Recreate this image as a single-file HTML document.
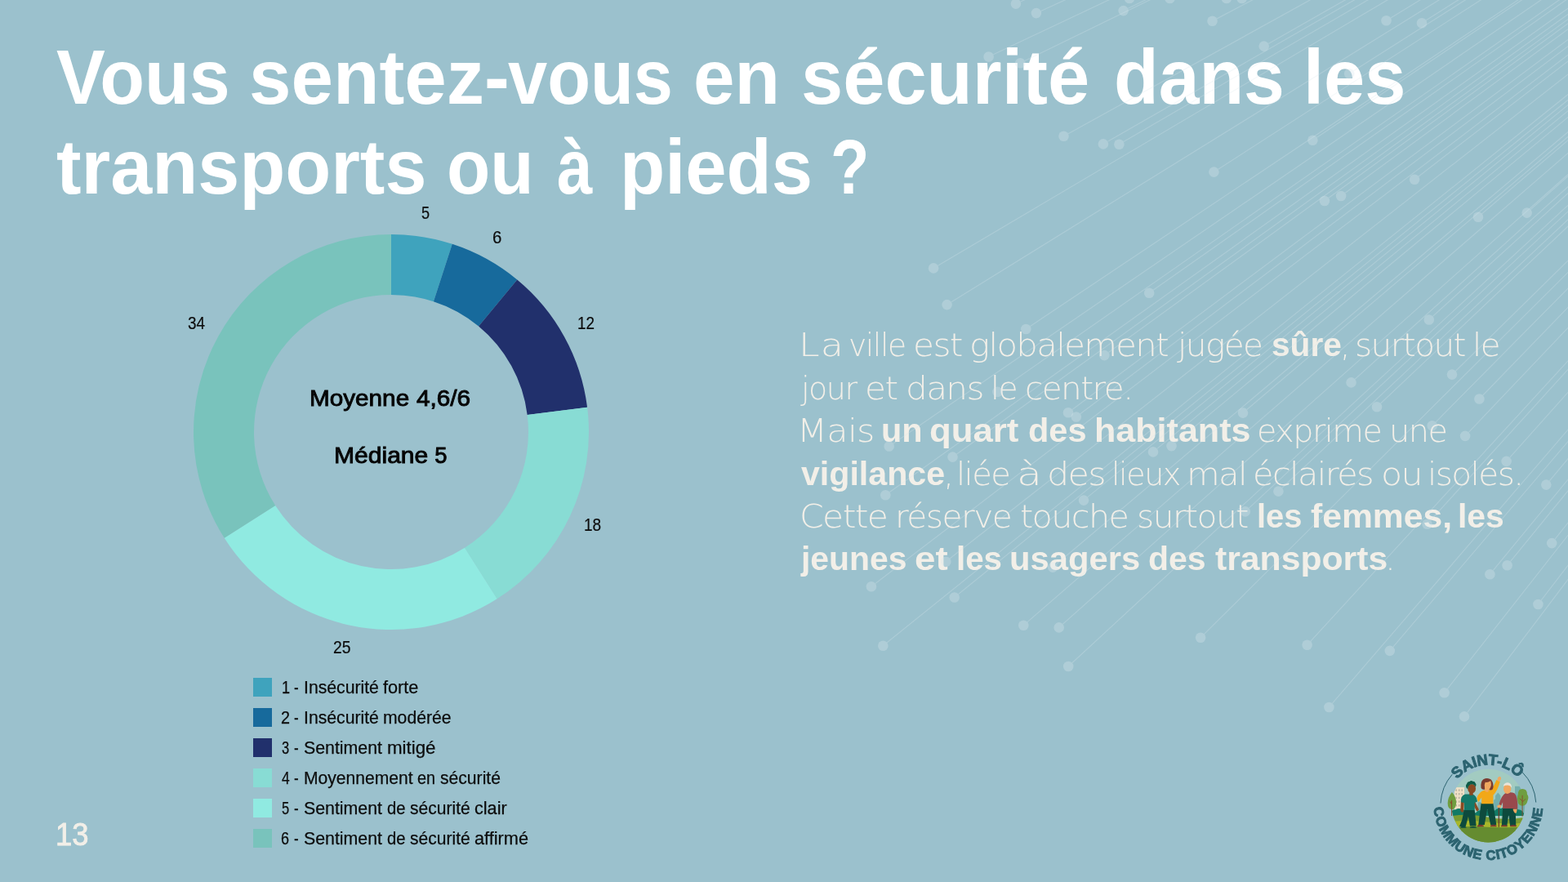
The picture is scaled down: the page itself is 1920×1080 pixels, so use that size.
<!DOCTYPE html>
<html lang="fr">
<head>
<meta charset="utf-8">
<title>Vous sentez-vous en sécurité dans les transports ou à pieds ?</title>
<style>
html,body{margin:0;padding:0;}
body{width:1920px;height:1080px;overflow:hidden;background:#9bc1cd;position:relative;font-family:"Liberation Sans",sans-serif;}
svg{position:absolute;left:0;top:0;}
h1,p,ul,li,div{margin:0;padding:0;list-style:none;}
h1 span,p span,p b,li span,.dl span,.ct span,.pn span{position:absolute;white-space:nowrap;transform-origin:0 0;}
h1 span{font:bold 95px/110px "Liberation Sans",sans-serif;color:#fff;}
p span{font:200 39px/52px "DejaVu Sans","Liberation Sans",sans-serif;color:#f2efe8;}
p b{font:bold 41.5px/52px "Liberation Sans",sans-serif;color:#f2efe8;}
li i{position:absolute;left:310.4px;width:22.6px;height:22.6px;}
li span{font:21.5px/30px "Liberation Sans",sans-serif;color:#0c0c0c;-webkit-text-stroke:0.25px #0c0c0c;}
.dl span{font:21.8px/30px "Liberation Sans",sans-serif;color:#0c0c0c;-webkit-text-stroke:0.2px #0c0c0c;}
.ct span{font:27.4px/34px "Liberation Sans",sans-serif;color:#050505;-webkit-text-stroke:0.9px #050505;}
.pn span{font:38px/42px "Liberation Sans",sans-serif;color:#f2efe8;-webkit-text-stroke:0.9px #f2efe8;}
</style>
</head>
<body>
<h1><span style="left:69.3px;top:39.0px;transform:scaleX(0.944)">Vous</span> <span style="left:305.4px;top:39.0px;transform:scaleX(0.974)">sentez-</span><span style="left:622.0px;top:39.0px;transform:scaleX(0.911)">vous</span> <span style="left:848.8px;top:39.0px;transform:scaleX(0.956)">en</span> <span style="left:981.1px;top:39.0px;transform:scaleX(0.969)">sécurité</span> <span style="left:1363.5px;top:39.0px;transform:scaleX(0.942)">dans</span> <span style="left:1596.3px;top:39.0px;transform:scaleX(0.949)">les</span>
<span style="left:68.7px;top:149.0px;transform:scaleX(0.965)">transports</span> <span style="left:547.2px;top:149.0px;transform:scaleX(0.918)">ou</span> <span style="left:682.4px;top:149.0px;transform:scaleX(0.821)">à</span> <span style="left:759.3px;top:149.0px;transform:scaleX(0.951)">pieds</span> <span style="left:1016.7px;top:149.0px;transform:scaleX(0.816)">?</span></h1>
<svg width="960" height="820" viewBox="0 0 960 820">
<path d="M479.00 287.00A242 242 0 0 1 553.78 298.84L530.91 369.22A168 168 0 0 0 479.00 361.00Z" fill="#3fa3bd"/>
<path d="M553.78 298.84A242 242 0 0 1 633.26 342.54L586.09 399.55A168 168 0 0 0 530.91 369.22Z" fill="#176a9c"/>
<path d="M633.26 342.54A242 242 0 0 1 719.09 498.67L645.68 507.94A168 168 0 0 0 586.09 399.55Z" fill="#21306c"/>
<path d="M719.09 498.67A242 242 0 0 1 608.67 733.33L569.02 670.85A168 168 0 0 0 645.68 507.94Z" fill="#88dcd4"/>
<path d="M608.67 733.33A242 242 0 0 1 274.67 658.67L337.15 619.02A168 168 0 0 0 569.02 670.85Z" fill="#90eae1"/>
<path d="M274.67 658.67A242 242 0 0 1 479.00 287.00L479.00 361.00A168 168 0 0 0 337.15 619.02Z" fill="#79c3bc"/>
</svg>
<div class="dl"><span style="left:516.0px;top:246.0px;transform:scaleX(0.833)">5</span> <span style="left:602.8px;top:276.0px;transform:scaleX(0.936)">6</span> <span style="left:707.1px;top:381.0px;transform:scaleX(0.865)">12</span> <span style="left:715.0px;top:628.0px;transform:scaleX(0.874)">18</span> <span style="left:408.0px;top:778.0px;transform:scaleX(0.887)">25</span> <span style="left:229.7px;top:381.0px;transform:scaleX(0.866)">34</span></div>
<div class="ct"><span style="left:378.8px;top:471.0px;transform:scaleX(1.084)">Moyenne</span> <span style="left:510.4px;top:471.0px;transform:scaleX(1.086)">4,6/6</span></div>
<div class="ct"><span style="left:408.6px;top:541.0px;transform:scaleX(1.097)">Médiane</span> <span style="left:532.2px;top:541.0px">5</span></div>
<ul>
<li><i style="top:830.4px;background:#3fa3bd"></i><span style="left:344.5px;top:827.0px;transform:scaleX(0.840)">1</span> <span style="left:360.3px;top:827.0px;transform:scaleX(0.786)">-</span> <span style="left:371.5px;top:827.0px;transform:scaleX(0.986)">Insécurité</span> <span style="left:469.2px;top:827.0px;transform:scaleX(1.010)">forte</span></li>
<li><i style="top:867.4px;background:#176a9c"></i><span style="left:343.9px;top:864.0px;transform:scaleX(0.920)">2</span> <span style="left:360.3px;top:864.0px;transform:scaleX(0.786)">-</span> <span style="left:371.5px;top:864.0px;transform:scaleX(0.986)">Insécurité</span> <span style="left:468.7px;top:864.0px;transform:scaleX(0.984)">modérée</span></li>
<li><i style="top:904.4px;background:#21306c"></i><span style="left:344.8px;top:901.0px;transform:scaleX(0.767)">3</span> <span style="left:360.3px;top:901.0px;transform:scaleX(0.786)">-</span> <span style="left:372.0px;top:901.0px;transform:scaleX(0.991)">Sentiment</span> <span style="left:473.7px;top:901.0px;transform:scaleX(1.038)">mitigé</span></li>
<li><i style="top:941.4px;background:#88dcd4"></i><span style="left:344.5px;top:938.0px;transform:scaleX(0.808)">4</span> <span style="left:360.3px;top:938.0px;transform:scaleX(0.786)">-</span> <span style="left:371.5px;top:938.0px;transform:scaleX(0.980)">Moyennement</span> <span style="left:511.3px;top:938.0px;transform:scaleX(0.923)">en</span> <span style="left:538.7px;top:938.0px;transform:scaleX(0.982)">sécurité</span></li>
<li><i style="top:978.4px;background:#90eae1"></i><span style="left:344.8px;top:975.0px;transform:scaleX(0.767)">5</span> <span style="left:360.3px;top:975.0px;transform:scaleX(0.786)">-</span> <span style="left:372.0px;top:975.0px;transform:scaleX(0.991)">Sentiment</span> <span style="left:474.2px;top:975.0px;transform:scaleX(0.941)">de</span> <span style="left:502.2px;top:975.0px;transform:scaleX(0.979)">sécurité</span> <span style="left:581.3px;top:975.0px;transform:scaleX(1.006)">clair</span></li>
<li><i style="top:1015.4px;background:#79c3bc"></i><span style="left:344.0px;top:1012.0px;transform:scaleX(0.836)">6</span> <span style="left:360.3px;top:1012.0px;transform:scaleX(0.786)">-</span> <span style="left:372.0px;top:1012.0px;transform:scaleX(0.991)">Sentiment</span> <span style="left:474.2px;top:1012.0px;transform:scaleX(0.941)">de</span> <span style="left:502.2px;top:1012.0px;transform:scaleX(0.979)">sécurité</span> <span style="left:581.3px;top:1012.0px;transform:scaleX(1.010)">affirmé</span></li>
</ul>
<p><span style="left:977.8px;top:397.0px;transform:scaleX(1.178);letter-spacing:0.90px">La</span> <span style="left:1038.9px;top:397.0px;transform:scaleX(0.966);letter-spacing:-1.50px">ville</span> <span style="left:1117.5px;top:397.0px;transform:scaleX(1.084);letter-spacing:-1.50px">est</span> <span style="left:1187.3px;top:397.0px;transform:scaleX(1.070);letter-spacing:-1.50px">globalement</span> <span style="left:1442.0px;top:397.0px;transform:scaleX(1.041);letter-spacing:-1.50px">jugée</span> <b style="left:1556.5px;top:396.0px;transform:scaleX(0.979)">sûre</b><span style="left:1641.0px;top:397.0px">,</span> <span style="left:1659.2px;top:397.0px;transform:scaleX(1.040);letter-spacing:-1.50px">surtout</span> <span style="left:1803.4px;top:397.0px;transform:scaleX(1.035);letter-spacing:-1.50px">le</span>
<span style="left:981.0px;top:450.0px;transform:scaleX(0.973);letter-spacing:-1.50px">jour</span> <span style="left:1059.2px;top:450.0px;transform:scaleX(1.084);letter-spacing:-1.50px">et</span> <span style="left:1108.6px;top:450.0px;transform:scaleX(1.081);letter-spacing:-1.50px">dans</span> <span style="left:1213.0px;top:450.0px;transform:scaleX(1.006);letter-spacing:-1.50px">le</span> <span style="left:1255.4px;top:450.0px;transform:scaleX(1.039);letter-spacing:-1.50px">centre.</span>
<span style="left:975.9px;top:502.0px;transform:scaleX(1.100);letter-spacing:-0.64px">Mais</span> <b style="left:1078.8px;top:501.0px;transform:scaleX(0.997)">un</b> <b style="left:1138.4px;top:501.0px;transform:scaleX(1.054)">quart</b> <b style="left:1259.0px;top:501.0px">des</b> <b style="left:1339.7px;top:501.0px;transform:scaleX(1.038)">habitants</b> <span style="left:1539.4px;top:502.0px;transform:scaleX(1.019);letter-spacing:-1.50px">exprime</span> <span style="left:1700.9px;top:502.0px;transform:scaleX(1.021);letter-spacing:-1.50px">une</span>
<b style="left:981.3px;top:554.0px;transform:scaleX(0.991)">vigilance</b><span style="left:1155.5px;top:555.0px">,</span> <span style="left:1171.4px;top:555.0px;transform:scaleX(1.028);letter-spacing:-1.50px">liée</span> <span style="left:1245.4px;top:555.0px;transform:scaleX(1.294)">à</span> <span style="left:1281.7px;top:555.0px;transform:scaleX(1.100);letter-spacing:-1.50px">des</span> <span style="left:1361.1px;top:555.0px;transform:scaleX(0.976);letter-spacing:-1.50px">lieux</span> <span style="left:1453.2px;top:555.0px;transform:scaleX(1.071);letter-spacing:-1.50px">mal</span> <span style="left:1533.8px;top:555.0px;transform:scaleX(1.062);letter-spacing:-1.50px">éclairés</span> <span style="left:1690.5px;top:555.0px;transform:scaleX(1.095);letter-spacing:-1.50px">ou</span> <span style="left:1747.6px;top:555.0px;transform:scaleX(1.041);letter-spacing:-1.50px">isolés.</span>
<span style="left:978.7px;top:607.0px;transform:scaleX(1.092);letter-spacing:-1.50px">Cette</span> <span style="left:1095.8px;top:607.0px;transform:scaleX(1.045);letter-spacing:-1.50px">réserve</span> <span style="left:1249.4px;top:607.0px;transform:scaleX(1.059);letter-spacing:-1.50px">touche</span> <span style="left:1392.2px;top:607.0px;transform:scaleX(1.045);letter-spacing:-1.50px">surtout</span> <b style="left:1538.6px;top:606.0px;transform:scaleX(0.961)">les</b> <b style="left:1604.5px;top:606.0px;transform:scaleX(1.028)">femmes,</b> <b style="left:1785.0px;top:606.0px;transform:scaleX(0.985)">les</b>
<b style="left:980.5px;top:658.0px;transform:scaleX(0.984)">jeunes</b> <b style="left:1119.7px;top:658.0px;transform:scaleX(1.100)">et</b> <b style="left:1170.6px;top:658.0px;transform:scaleX(0.971)">les</b> <b style="left:1236.0px;top:658.0px;transform:scaleX(1.006)">usagers</b> <b style="left:1406.0px;top:658.0px;transform:scaleX(0.987)">des</b> <b style="left:1488.0px;top:658.0px;transform:scaleX(1.029)">transports</b><span style="left:1696.3px;top:659.0px">.</span></p>
<div class="pn"><span style="left:67.9px;top:1001.0px;transform:scaleX(0.958)">13</span></div>
<svg id="logo" width="1920" height="1080" viewBox="0 0 1920 1080">
<defs>
<clipPath id="lc"><circle cx="1822.4" cy="986.6" r="44.9"/></clipPath>
<path id="pt" d="M1772.40 986.60A50.0 50.0 0 0 1 1872.40 986.60"/>
<path id="pb" d="M1755.80 986.60A66.6 66.6 0 0 0 1889.00 986.60"/>
</defs>
<g clip-path="url(#lc)"><g transform="translate(1750 920) scale(0.12965)">
<rect x="150" y="150" width="820" height="730" fill="#a2cbc1"/>
<rect x="238" y="340" width="94" height="230" fill="#efe0c6"/>
<rect x="250" y="358" width="12" height="18" fill="#b9b3a0"/>
<rect x="277" y="358" width="12" height="18" fill="#b9b3a0"/>
<rect x="304" y="358" width="12" height="18" fill="#b9b3a0"/>
<rect x="250" y="394" width="12" height="18" fill="#b9b3a0"/>
<rect x="277" y="394" width="12" height="18" fill="#b9b3a0"/>
<rect x="304" y="394" width="12" height="18" fill="#b9b3a0"/>
<rect x="250" y="430" width="12" height="18" fill="#b9b3a0"/>
<rect x="277" y="430" width="12" height="18" fill="#b9b3a0"/>
<rect x="304" y="430" width="12" height="18" fill="#b9b3a0"/>
<rect x="250" y="466" width="12" height="18" fill="#b9b3a0"/>
<rect x="277" y="466" width="12" height="18" fill="#b9b3a0"/>
<rect x="304" y="466" width="12" height="18" fill="#b9b3a0"/>
<rect x="250" y="502" width="12" height="18" fill="#b9b3a0"/>
<rect x="277" y="502" width="12" height="18" fill="#b9b3a0"/>
<rect x="304" y="502" width="12" height="18" fill="#b9b3a0"/>
<path d="M810 330h60v260h-60zM610 460l15-10v-30l25-30l25 30v170h-65zM460 480h30v100h-30zM870 420h50v170h-50z" fill="#74aead"/>
<path d="M190 610q10-60 60-60q30-20 60 0q40 0 50 30h80q20-30 60-20q30-20 60 0h60q20-30 60-20q40-30 80 0q50-20 80 10q50 0 60 60z" fill="#117a66"/>
<path d="M150 620q200-40 400 0t420-10v280h-820z" fill="#7a9b32"/>
<path d="M150 670q200-30 420 0t400-10v60h-820z" fill="#a8b72c"/>
<path d="M150 730q200-30 400-15t420-10v180h-820z" fill="#658c30"/>
</g></g>
<g transform="translate(1750 920) scale(0.12965)">
<path d="M215 385q45 50 40 110q-5 50-40 55q-40-5-40-60q0-55 40-105z" fill="#6f9e40"/>
<path d="M213 610v-150M213 500l-15-25" stroke="#8a4a2a" stroke-width="8" fill="none"/>
<path d="M880 355q45 0 45 50q20 25 5 60q-10 50-50 50q-40 0-45-50q-10-30 5-60q0-50 40-50z" fill="#6f9e40"/>
<path d="M880 615v-200M880 480l30-30M880 470l-25-25" stroke="#8a4a2a" stroke-width="7" fill="none"/>
<path d="M330 555h100l15 150h-60l-15-90l-25 95h-60l25-60z" fill="#0d4a3d"/>
<path d="M295 715q25-15 55 0v8h-55zM385 715q30-12 60 0v8h-60z" fill="#0d4a3d"/>
<path d="M300 470l-5 90q10 25 30 10l5-90zM430 470l40 80q-15 25-25 10l-35-70z" fill="#8a4a22"/>
<path d="M300 480q-5-60 40-75h70q40 15 45 70l-25 10v70h-100v-70z" fill="#13796a"/>
<rect x="380" y="385" width="34" height="30" fill="#8a4a22"/>
<ellipse cx="402" cy="352" rx="38" ry="44" fill="#8a4a22"/>
<path d="M352 345q-12-22 4-38q4-22 26-22q14-12 30-2q20-2 24 16q14 14 2 36q-8-22-30-24q-22-2-34 14q-10 12-8 30q-10-2-14-10z" fill="#0d5b47"/>
<path d="M490 490h115l30 205h-55l-32-150l-25 150h-58z" fill="#0d4a3d"/>
<path d="M455 700q30-15 60 0v12h-60zM578 700q30-15 58 0v12h-58z" fill="#7a3a30"/>
<path d="M450 445q20-70 80-80h50q30-30 55-95l35 15q-25 90-65 130v80h-110v-60l-30 45z" fill="#f2a818"/>
<path d="M645 275q-5-30 20-38q20 5 12 30q-5 15-20 18z" fill="#f0a860"/>
<path d="M490 345q-8-55 22-80q38-22 72 2q22 25 22 65q0 20-10 30q-20 8-32-2h-45q-18 6-29-15z" fill="#7a3b2f"/>
<path d="M525 372v-25q-8-30 5-55q25 5 50-12q12 35-2 62q-6 18-18 25v15q-18 8-35-10z" fill="#f0a860"/>
<path d="M695 540h120l5 165h-55l-15-110l-15 110h-50z" fill="#0d4a3d"/>
<path d="M680 700q30-12 58 0v12h-58zM765 700q30-12 58 0v12h-58z" fill="#7a3a30"/>
<path d="M658 530v185" stroke="#6b3326" stroke-width="9" fill="none"/>
<path d="M660 500q20-80 60-105q50-15 85 0q35 30 30 150h-40v-5h-100v-60l-15 35z" fill="#99494c"/>
<path d="M640 520q10-20 35-12l5 20q-20 5-30 5zM790 545h40l-5 35q-15 10-25-10z" fill="#f0a860"/>
<ellipse cx="738" cy="355" rx="36" ry="46" fill="#f0a860"/>
<path d="M700 330q5-35 45-35q35 5 35 50q-15-25-40-25q-25 0-40 10z" fill="#e9e4da"/>
</g>
<path d="M1778.25 948.22A58.5 58.5 0 0 0 1763.98 983.54M1880.76 982.52A58.5 58.5 0 0 0 1863.77 945.23" fill="none" stroke="#2c6370" stroke-width="1"/>
<text font-family="Liberation Sans, sans-serif" font-weight="bold" font-size="18.5" letter-spacing="-0.3" fill="#2c6370" stroke="#2c6370" stroke-width="0.95"><textPath href="#pt" startOffset="49.2%" text-anchor="middle">SAINT-LÔ</textPath></text>
<text font-family="Liberation Sans, sans-serif" font-weight="bold" font-size="16.6" letter-spacing="0.9" fill="#2c6370" stroke="#2c6370" stroke-width="0.95"><textPath href="#pb" startOffset="50%" text-anchor="middle">COMMUNE CITOYENNE</textPath></text>
</svg>
<svg id="pat" width="1920" height="1080" viewBox="0 0 1920 1080" style="pointer-events:none">
<g stroke="#d8e7ec" stroke-opacity="0.28" stroke-width="1.2" fill="none">
<path d="M1249.7 2.0L1265.4 -5.0M1274.6 13.5L1314.9 -5.0M1381.3 10.3L1412.9 -5.0M1216.3 66.8L1368.1 -5.0M1255.0 74.4L1418.0 -5.0M1308.0 163.7L1613.2 -5.0M1356.4 173.3L1667.0 -5.0M1375.8 173.6L1683.5 -5.0M1388.7 -4.7L1389.3 -5.0M1438.1 -4.8L1438.6 -5.0M1507.5 -4.9L1507.7 -5.0M1526.2 -4.9L1526.4 -5.0M1490.1 22.9L1542.9 -5.0M1553.2 53.5L1655.9 -5.0M1702.9 21.9L1747.1 -5.0M1746.3 24.8L1793.6 -5.0M1657.5 86.8L1802.1 -5.0M1612.6 168.3L1870.8 -5.0M1491.7 207.2L1820.9 -5.0M1737.1 215.9L1925.0 71.2M1627.0 242.3L1925.0 25.0M1647.2 236.3L1925.0 32.0M1148.5 325.2L1707.4 -5.0M1165.0 369.8L1770.1 -5.0M1261.5 399.5L1866.3 -5.0M1412.4 355.1L1924.7 -5.0M1357.4 431.4L1925.0 20.0M1226.6 476.3L1916.3 -5.0M1814.8 261.6L1925.0 167.5M1874.4 256.4L1925.0 211.3M1754.5 387.3L1925.0 232.1M1782.5 454.2L1925.0 314.3M1659.2 464.2L1925.0 224.1M1815.8 484.0L1925.0 371.3M1690.6 494.0L1925.0 272.4M1313.0 501.4L1925.0 44.7M1322.8 506.7L1925.0 52.9M1093.9 542.9L1894.2 -5.0M1171.6 555.9L1925.0 13.8M1416.9 549.4L1925.0 131.6M1439.3 542.1L1925.0 139.4M1089.4 602.5L1925.0 6.6M1331.9 608.6L1925.0 124.5M1163.3 683.8L1925.0 87.0M1293.9 690.5L1925.0 157.4M1071.9 714.4L1925.0 63.5M1173.6 727.5L1925.0 118.3M1526.8 501.5L1925.0 163.1M1758.1 516.8L1925.0 348.0M1798.4 529.3L1925.0 396.0M1848.8 560.2L1925.0 474.7M1897.3 588.8L1925.0 555.8M1570.0 597.3L1925.0 264.2M1529.4 622.1L1925.0 254.4M1751.7 637.1L1925.0 446.9M1904.1 660.2L1925.0 633.8M1849.6 687.3L1925.0 594.8M1828.4 698.3L1925.0 581.0M1887.2 735.0L1925.0 685.7M1086.2 786.7L1925.0 111.6M1258.1 761.6L1925.0 183.1M1301.4 764.2L1925.0 209.2M1312.8 811.7L1925.0 246.7M1474.6 776.4L1925.0 328.5M1604.9 785.1L1925.0 436.5M1631.5 861.2L1925.0 520.3M1705.9 792.1L1925.0 534.8M1772.5 843.3L1925.0 649.0M1796.8 872.4L1925.0 703.0"/>
</g>
<g fill="#d8e7ec" fill-opacity="0.33">
<circle cx="1243.9" cy="4.6" r="6.3"/>
<circle cx="1268.9" cy="16.1" r="6.3"/>
<circle cx="1375.6" cy="13.1" r="6.3"/>
<circle cx="1210.6" cy="69.5" r="6.3"/>
<circle cx="1249.3" cy="77.2" r="6.3"/>
<circle cx="1302.5" cy="166.7" r="6.3"/>
<circle cx="1350.9" cy="176.4" r="6.3"/>
<circle cx="1370.4" cy="176.8" r="6.3"/>
<circle cx="1383.0" cy="-2.0" r="6.3"/>
<circle cx="1432.5" cy="-2.0" r="6.3"/>
<circle cx="1501.9" cy="-2.0" r="6.3"/>
<circle cx="1520.6" cy="-2.0" r="6.3"/>
<circle cx="1484.5" cy="25.8" r="6.3"/>
<circle cx="1547.7" cy="56.6" r="6.3"/>
<circle cx="1697.5" cy="25.2" r="6.3"/>
<circle cx="1741.0" cy="28.2" r="6.3"/>
<circle cx="1652.2" cy="90.2" r="6.3"/>
<circle cx="1607.4" cy="171.8" r="6.3"/>
<circle cx="1486.4" cy="210.6" r="6.3"/>
<circle cx="1732.1" cy="219.7" r="6.3"/>
<circle cx="1621.9" cy="246.0" r="6.3"/>
<circle cx="1642.1" cy="240.0" r="6.3"/>
<circle cx="1143.1" cy="328.4" r="6.3"/>
<circle cx="1159.6" cy="373.1" r="6.3"/>
<circle cx="1256.3" cy="403.0" r="6.3"/>
<circle cx="1407.2" cy="358.7" r="6.3"/>
<circle cx="1352.3" cy="435.1" r="6.3"/>
<circle cx="1221.4" cy="479.9" r="6.3"/>
<circle cx="1810.0" cy="265.7" r="6.3"/>
<circle cx="1869.7" cy="260.6" r="6.3"/>
<circle cx="1749.8" cy="391.5" r="6.3"/>
<circle cx="1778.0" cy="458.6" r="6.3"/>
<circle cx="1654.5" cy="468.4" r="6.3"/>
<circle cx="1811.4" cy="488.5" r="6.3"/>
<circle cx="1686.0" cy="498.3" r="6.3"/>
<circle cx="1308.0" cy="505.2" r="6.3"/>
<circle cx="1317.8" cy="510.5" r="6.3"/>
<circle cx="1088.7" cy="546.5" r="6.3"/>
<circle cx="1166.5" cy="559.6" r="6.3"/>
<circle cx="1412.0" cy="553.4" r="6.3"/>
<circle cx="1434.5" cy="546.1" r="6.3"/>
<circle cx="1084.3" cy="606.2" r="6.3"/>
<circle cx="1327.0" cy="612.6" r="6.3"/>
<circle cx="1158.3" cy="687.7" r="6.3"/>
<circle cx="1289.1" cy="694.6" r="6.3"/>
<circle cx="1066.9" cy="718.2" r="6.3"/>
<circle cx="1168.7" cy="731.5" r="6.3"/>
<circle cx="1522.0" cy="505.6" r="6.3"/>
<circle cx="1753.7" cy="521.3" r="6.3"/>
<circle cx="1794.1" cy="533.9" r="6.3"/>
<circle cx="1844.6" cy="564.9" r="6.3"/>
<circle cx="1893.3" cy="593.6" r="6.3"/>
<circle cx="1565.4" cy="601.6" r="6.3"/>
<circle cx="1524.8" cy="626.4" r="6.3"/>
<circle cx="1747.5" cy="641.8" r="6.3"/>
<circle cx="1900.2" cy="665.1" r="6.3"/>
<circle cx="1845.6" cy="692.2" r="6.3"/>
<circle cx="1824.4" cy="703.2" r="6.3"/>
<circle cx="1883.4" cy="740.0" r="6.3"/>
<circle cx="1081.3" cy="790.7" r="6.3"/>
<circle cx="1253.3" cy="765.7" r="6.3"/>
<circle cx="1296.7" cy="768.4" r="6.3"/>
<circle cx="1308.2" cy="816.0" r="6.3"/>
<circle cx="1470.1" cy="780.8" r="6.3"/>
<circle cx="1600.6" cy="789.7" r="6.3"/>
<circle cx="1627.4" cy="866.0" r="6.3"/>
<circle cx="1701.8" cy="796.9" r="6.3"/>
<circle cx="1768.6" cy="848.3" r="6.3"/>
<circle cx="1793.0" cy="877.4" r="6.3"/>
</g></svg>
</body>
</html>
